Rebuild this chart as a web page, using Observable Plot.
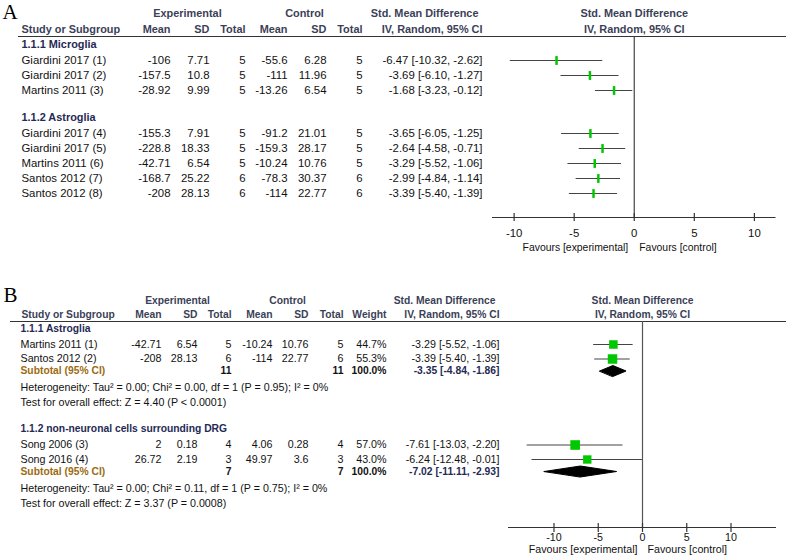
<!DOCTYPE html>
<html>
<head>
<meta charset="utf-8">
<script src="https://cdn.jsdelivr.net/npm/d3@7"></script>
<script src="https://cdn.jsdelivr.net/npm/@observablehq/plot@0.6"></script>
<style>
  body { margin: 0; background: #fff; }
  #chart svg { display: block; }
</style>
</head>
<body>
<div id="chart"></div>
<script>
// ---------------- Panel A data ----------------
const aGroups = ["1.1.1 Microglia", "1.1.2 Astroglia"];
const aStudy = ["Giardini 2017 (1)", "Giardini 2017 (2)", "Martins 2011 (3)", "Giardini 2017 (4)",
                "Giardini 2017 (5)", "Martins 2011 (6)", "Santos 2012 (7)", "Santos 2012 (8)"];
const aGroupIdx = [0, 0, 0, 1, 1, 1, 1, 1];
const aExpMean = [-106, -157.5, -28.92, -155.3, -228.8, -42.71, -168.7, -208];
const aExpSD   = [7.71, 10.8, 9.99, 7.91, 18.33, 6.54, 25.22, 28.13];
const aExpN    = [5, 5, 5, 5, 5, 5, 6, 6];
const aCtlMean = [-55.6, -111, -13.26, -91.2, -159.3, -10.24, -78.3, -114];
const aCtlSD   = [6.28, 11.96, 6.54, 21.01, 28.17, 10.76, 30.37, 22.77];
const aCtlN    = [5, 5, 5, 5, 5, 5, 6, 6];
const aSmd     = [-6.47, -3.69, -1.68, -3.65, -2.64, -3.29, -2.99, -3.39];
const aLo      = [-10.32, -6.10, -3.23, -6.05, -4.58, -5.52, -4.84, -5.40];
const aHi      = [-2.62, -1.27, -0.12, -1.25, -0.71, -1.06, -1.14, -1.39];
const aTicks   = [-10, -5, 0, 5, 10];

// ---------------- Panel B data ----------------
const bGroups = ["1.1.1 Astroglia", "1.1.2 non-neuronal cells surrounding DRG"];
const bStudy = ["Martins 2011 (1)", "Santos 2012 (2)", "Song 2006 (3)", "Song 2016 (4)"];
const bGroupIdx = [0, 0, 1, 1];
const bExpMean = [-42.71, -208, 2, 26.72];
const bExpSD   = [6.54, 28.13, 0.18, 2.19];
const bExpN    = [5, 6, 4, 3];
const bCtlMean = [-10.24, -114, 4.06, 49.97];
const bCtlSD   = [10.76, 22.77, 0.28, 3.6];
const bCtlN    = [5, 6, 4, 3];
const bWeight  = [44.7, 55.3, 57.0, 43.0];
const bSmd     = [-3.29, -3.39, -7.61, -6.24];
const bLo      = [-5.52, -5.40, -13.03, -12.48];
const bHi      = [-1.06, -1.39, -2.20, -0.01];
const bSubExpN = [11, 7];
const bSubCtlN = [11, 7];
const bSubWeight = [100.0, 100.0];
const bSubSmd  = [-3.35, -7.02];
const bSubLo   = [-4.84, -11.11];
const bSubHi   = [-1.86, -2.93];
const bHet = ["Heterogeneity: Tau\u00B2 = 0.00; Chi\u00B2 = 0.00, df = 1 (P = 0.95); I\u00B2 = 0%",
              "Heterogeneity: Tau\u00B2 = 0.00; Chi\u00B2 = 0.11, df = 1 (P = 0.75); I\u00B2 = 0%"];
const bTest = ["Test for overall effect: Z = 4.40 (P < 0.0001)",
               "Test for overall effect: Z = 3.37 (P = 0.0008)"];
const bTicks = [-10, -5, 0, 5, 10];

// ---------------- styling ----------------
const FONT = "'Liberation Sans', Arial, Helvetica, sans-serif";
const SERIF = "'Liberation Serif', 'DejaVu Serif', serif";
const C_HEAD = "#3b3f58";
const C_GROUP = "#1f2a55";
const C_SUB = "#9c6b12";
const C_TEXT = "#111";
const C_GREEN = "#00c800";
const W = 786;
const ci = (m, l, h) => `${m.toFixed(2)} [${l.toFixed(2)}, ${h.toFixed(2)}]`;
const vbar = { draw(ctx, size) { const h = Math.sqrt(size); ctx.moveTo(0, -h); ctx.lineTo(0, h); } };

// text in a table column (left margin), positioned relative to the frame's left edge
function col(rows, text, px, ml, o = {}) {
  return Plot.text(rows, {
    y: "y", text, frameAnchor: "left", dx: px - ml, lineAnchor: "middle",
    textAnchor: o.anchor || "end", fill: o.fill || C_TEXT,
    fontWeight: o.weight || "normal", fontSize: o.size, fontFamily: o.family || FONT
  });
}
function lab(t, px, yOff, ml, o = {}) {
  return Plot.text([t], {
    text: d => d, y: () => yOff, frameAnchor: "left", dx: px - ml, lineAnchor: "middle",
    textAnchor: o.anchor || "middle", fill: o.fill || C_HEAD,
    fontWeight: o.weight || "bold", fontSize: o.size, fontFamily: o.family || FONT
  });
}

// ---------------- Panel A ----------------
function panelA() {
  const H = 262, mt = 36, mb = H - 217, ml = 492, mr = 10.5, fh = 217 - 36;
  const fs = 11.4, fb = 10.9;
  const rows = []; let y = 8;
  aGroups.forEach((g, gi) => {
    if (gi > 0) y += 12;
    rows.push({ kind: "group", text: g, y });
    y += 16;
    aStudy.forEach((s, i) => { if (aGroupIdx[i] === gi) { rows.push({ kind: "study", i, y }); y += 15; } });
  });
  const groups = rows.filter(r => r.kind === "group");
  const st = rows.filter(r => r.kind === "study").map(r => ({
    y: r.y, name: aStudy[r.i], em: aExpMean[r.i], es: aExpSD[r.i], en: aExpN[r.i],
    cm: aCtlMean[r.i], cs: aCtlSD[r.i], cn: aCtlN[r.i], est: aSmd[r.i], lo: aLo[r.i], hi: aHi[r.i]
  }));
  return Plot.plot({
    width: W, height: H, marginLeft: ml, marginRight: mr, marginTop: mt, marginBottom: mb,
    x: { domain: [-11.8, 11.8], axis: null },
    y: { domain: [0, fh], range: [mt, H - mb], axis: null },
    style: { fontFamily: FONT, background: "white" },
    marks: [
      lab("A", 2, 11.5 - mt, ml, { anchor: "start", family: SERIF, size: 21, weight: "normal", fill: "#000" }),
      lab("Experimental", 187, -23, ml, { size: fb }),
      lab("Control", 304, -23, ml, { size: fb }),
      lab("Std. Mean Difference", 478, -23, ml, { size: fb, anchor: "end" }),
      lab("Study or Subgroup", 21, -7, ml, { size: fb, anchor: "start" }),
      lab("Mean", 170, -7, ml, { size: fb, anchor: "end" }),
      lab("SD", 209, -7, ml, { size: fb, anchor: "end" }),
      lab("Total", 245, -7, ml, { size: fb, anchor: "end" }),
      lab("Mean", 287, -7, ml, { size: fb, anchor: "end" }),
      lab("SD", 326, -7, ml, { size: fb, anchor: "end" }),
      lab("Total", 362, -7, ml, { size: fb, anchor: "end" }),
      lab("IV, Random, 95% CI", 482, -7, ml, { size: fb, anchor: "end" }),
      Plot.text(["Std. Mean Difference"], { text: d => d, x: () => 0, y: () => -23, fill: C_HEAD, fontWeight: "bold", fontSize: fb }),
      Plot.text(["IV, Random, 95% CI"], { text: d => d, x: () => 0, y: () => -7, fill: C_HEAD, fontWeight: "bold", fontSize: fb }),
      Plot.ruleY([0], { y: d => d, insetLeft: -(ml - 18), insetRight: -mr, stroke: "#333", strokeWidth: 1.2 }),
      col(groups, "text", 21, ml, { anchor: "start", fill: C_GROUP, weight: "bold", size: fb }),
      col(st, "name", 21, ml, { anchor: "start", size: fs }),
      col(st, d => String(d.em), 170, ml, { size: fs }),
      col(st, d => String(d.es), 209, ml, { size: fs }),
      col(st, d => String(d.en), 245, ml, { size: fs }),
      col(st, d => String(d.cm), 287, ml, { size: fs }),
      col(st, d => String(d.cs), 326, ml, { size: fs }),
      col(st, d => String(d.cn), 362, ml, { size: fs }),
      col(st, d => ci(d.est, d.lo, d.hi), 482, ml, { size: fs }),
      Plot.ruleX([0], { stroke: "#444", strokeWidth: 1.2 }),
      Plot.ruleY([fh], { y: d => d, stroke: "#333", strokeWidth: 1.2 }),
      Plot.ruleX(aTicks, { x: d => d, y1: () => fh - 4, y2: () => fh + 4, stroke: "#333", strokeWidth: 1.2 }),
      Plot.text(aTicks, { x: d => d, y: () => fh + 16, text: d => String(d), fontSize: fs, fill: C_TEXT }),
      Plot.text(["Favours [experimental]"], { text: d => d, x: () => 0, y: () => fh + 30, dx: -6, textAnchor: "end", fontSize: 10.4, fill: C_TEXT }),
      Plot.text(["Favours [control]"], { text: d => d, x: () => 0, y: () => fh + 30, dx: 5, textAnchor: "start", fontSize: 10.4, fill: C_TEXT }),
      Plot.ruleY(st, { y: "y", x1: "lo", x2: "hi", stroke: "#444", strokeWidth: 1.2 }),
      Plot.dot(st, { x: "est", y: "y", r: 2.5, symbol: vbar, fill: "none", stroke: C_GREEN, strokeWidth: 2.5 })
    ]
  });
}

// ---------------- Panel B ----------------
function panelB() {
  const H = 294, top = 262, mt = 321 - top, axisY = 527 - top, mb = H - axisY, ml = 508, mr = 10, fh = axisY - mt;
  const fs = 10.7, fb = 10.3;
  const rows = []; let y = 7;
  bGroups.forEach((g, gi) => {
    if (gi > 0) y += 26;
    rows.push({ kind: "group", gi, y });
    y += 16;
    let k = 0;
    bStudy.forEach((s, i) => { if (bGroupIdx[i] === gi) { if (k > 0) y += 14.5; rows.push({ kind: "study", i, y }); k++; } });
    y += 12; rows.push({ kind: "sub", gi, y });
    y += 17; rows.push({ kind: "het", gi, y });
    y += 15; rows.push({ kind: "test", gi, y });
  });
  const groups = rows.filter(r => r.kind === "group").map(r => ({ y: r.y, text: bGroups[r.gi] }));
  const st = rows.filter(r => r.kind === "study").map(r => ({
    y: r.y, name: bStudy[r.i], em: bExpMean[r.i], es: bExpSD[r.i], en: bExpN[r.i],
    cm: bCtlMean[r.i], cs: bCtlSD[r.i], cn: bCtlN[r.i], w: bWeight[r.i], est: bSmd[r.i], lo: bLo[r.i], hi: bHi[r.i]
  }));
  const subs = rows.filter(r => r.kind === "sub").map(r => ({
    y: r.y, en: bSubExpN[r.gi], cn: bSubCtlN[r.gi], w: bSubWeight[r.gi], est: bSubSmd[r.gi], lo: bSubLo[r.gi], hi: bSubHi[r.gi], g: r.gi
  }));
  const het = rows.filter(r => r.kind === "het").map(r => ({ y: r.y, text: bHet[r.gi] }));
  const test = rows.filter(r => r.kind === "test").map(r => ({ y: r.y, text: bTest[r.gi] }));
  const hd = 5.5;
  const diamonds = subs.flatMap(s => [
    { g: s.g, x: s.lo, y: s.y }, { g: s.g, x: s.est, y: s.y - hd },
    { g: s.g, x: s.hi, y: s.y }, { g: s.g, x: s.est, y: s.y + hd }
  ]);
  return Plot.plot({
    width: W, height: H, marginLeft: ml, marginRight: mr, marginTop: mt, marginBottom: mb,
    x: { domain: [-15.14, 15.14], axis: null },
    y: { domain: [0, fh], range: [mt, H - mb], axis: null },
    r: { type: "sqrt", domain: [0, 100], range: [0, 7.2] },
    style: { fontFamily: FONT, background: "white" },
    marks: [
      lab("B", 3, 294.5 - top - mt, ml, { anchor: "start", family: SERIF, size: 21, weight: "normal", fill: "#000" }),
      lab("Experimental", 177, -21, ml, { size: fb }),
      lab("Control", 287, -21, ml, { size: fb }),
      lab("Std. Mean Difference", 495, -21, ml, { size: fb, anchor: "end" }),
      lab("Study or Subgroup", 21, -7, ml, { size: fb, anchor: "start" }),
      lab("Mean", 161, -7, ml, { size: fb, anchor: "end" }),
      lab("SD", 197, -7, ml, { size: fb, anchor: "end" }),
      lab("Total", 231, -7, ml, { size: fb, anchor: "end" }),
      lab("Mean", 272, -7, ml, { size: fb, anchor: "end" }),
      lab("SD", 308, -7, ml, { size: fb, anchor: "end" }),
      lab("Total", 343, -7, ml, { size: fb, anchor: "end" }),
      lab("Weight", 386, -7, ml, { size: fb, anchor: "end" }),
      lab("IV, Random, 95% CI", 499, -7, ml, { size: fb, anchor: "end" }),
      Plot.text(["Std. Mean Difference"], { text: d => d, x: () => 0, y: () => -21, fill: C_HEAD, fontWeight: "bold", fontSize: fb }),
      Plot.text(["IV, Random, 95% CI"], { text: d => d, x: () => 0, y: () => -7, fill: C_HEAD, fontWeight: "bold", fontSize: fb }),
      Plot.ruleY([0], { y: d => d, insetLeft: -(ml - 10), insetRight: -mr, stroke: "#333", strokeWidth: 1.2 }),
      col(groups, "text", 20, ml, { anchor: "start", fill: C_GROUP, weight: "bold", size: fb }),
      col(st, "name", 20, ml, { anchor: "start", size: fs }),
      col(st, d => String(d.em), 161, ml, { size: fs }),
      col(st, d => String(d.es), 197, ml, { size: fs }),
      col(st, d => String(d.en), 231, ml, { size: fs }),
      col(st, d => String(d.cm), 272, ml, { size: fs }),
      col(st, d => String(d.cs), 308, ml, { size: fs }),
      col(st, d => String(d.cn), 343, ml, { size: fs }),
      col(st, d => d.w.toFixed(1) + "%", 386, ml, { size: fs }),
      col(st, d => ci(d.est, d.lo, d.hi), 499, ml, { size: fs }),
      col(subs, () => "Subtotal (95% CI)", 20, ml, { anchor: "start", fill: C_SUB, weight: "bold", size: fb }),
      col(subs, d => String(d.en), 231, ml, { weight: "bold", size: fb }),
      col(subs, d => String(d.cn), 343, ml, { weight: "bold", size: fb }),
      col(subs, d => d.w.toFixed(1) + "%", 386, ml, { weight: "bold", size: fb }),
      col(subs, d => ci(d.est, d.lo, d.hi), 499, ml, { weight: "bold", size: fb, fill: C_GROUP }),
      col(het, "text", 20, ml, { anchor: "start", size: fs }),
      col(test, "text", 20, ml, { anchor: "start", size: fs }),
      Plot.ruleX([0], { stroke: "#555", strokeWidth: 1.2 }),
      Plot.ruleY([fh], { y: d => d, stroke: "#333", strokeWidth: 1.2 }),
      Plot.ruleX(bTicks, { x: d => d, y1: () => fh - 4, y2: () => fh + 5, stroke: "#333", strokeWidth: 1.2 }),
      Plot.text(bTicks, { x: d => d, y: () => fh + 10, text: d => String(d), fontSize: fs, fill: C_TEXT }),
      Plot.text(["Favours [experimental]"], { text: d => d, x: () => 0, y: () => fh + 22, dx: -5, textAnchor: "end", fontSize: fs, fill: C_TEXT }),
      Plot.text(["Favours [control]"], { text: d => d, x: () => 0, y: () => fh + 22, dx: 5, textAnchor: "start", fontSize: fs, fill: C_TEXT }),
      Plot.ruleY(st, { y: "y", x1: "lo", x2: "hi", stroke: "#444", strokeWidth: 1.2 }),
      Plot.dot(st, { x: "est", y: "y", r: "w", symbol: "square", fill: C_GREEN, stroke: "none" }),
      Plot.line(diamonds, { x: "x", y: "y", z: "g", curve: "linear-closed", fill: "#000", stroke: "#000", strokeWidth: 1 })
    ]
  });
}

const root = document.getElementById("chart");
root.append(panelA(), panelB());
</script>
</body>
</html>
